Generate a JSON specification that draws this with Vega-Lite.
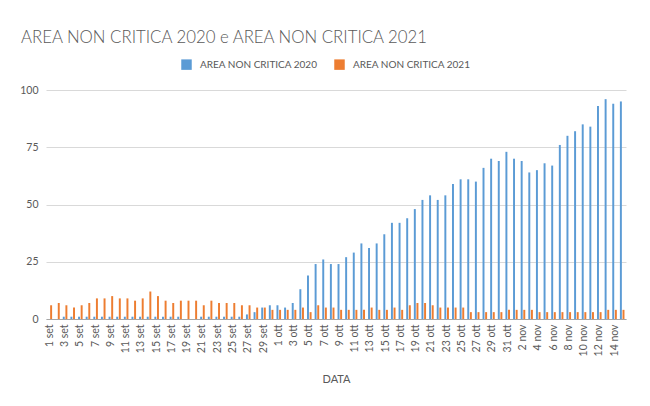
{
  "$schema": "https://vega.github.io/schema/vega-lite/v6.json",
  "width": 580,
  "height": 229,
  "autosize": {"type": "none"},
  "padding": {"left": 46, "top": 90, "right": 24, "bottom": 87},
  "background": "white",
  "title": {
    "text": "AREA NON CRITICA 2020 e AREA NON CRITICA 2021",
    "anchor": "start",
    "frame": "group",
    "dx": -25,
    "offset": 12,
    "font": "Lato",
    "fontSize": 16.8,
    "fontWeight": 300,
    "color": "#595959"
  },
  "data": {
    "values": [
      {"giorno": "1 set", "serie": "AREA NON CRITICA 2020", "valore": 0},
      {"giorno": "1 set", "serie": "AREA NON CRITICA 2021", "valore": 6},
      {"giorno": "2 set", "serie": "AREA NON CRITICA 2020", "valore": 0},
      {"giorno": "2 set", "serie": "AREA NON CRITICA 2021", "valore": 7},
      {"giorno": "3 set", "serie": "AREA NON CRITICA 2020", "valore": 1},
      {"giorno": "3 set", "serie": "AREA NON CRITICA 2021", "valore": 6},
      {"giorno": "4 set", "serie": "AREA NON CRITICA 2020", "valore": 1},
      {"giorno": "4 set", "serie": "AREA NON CRITICA 2021", "valore": 5},
      {"giorno": "5 set", "serie": "AREA NON CRITICA 2020", "valore": 1},
      {"giorno": "5 set", "serie": "AREA NON CRITICA 2021", "valore": 6},
      {"giorno": "6 set", "serie": "AREA NON CRITICA 2020", "valore": 1},
      {"giorno": "6 set", "serie": "AREA NON CRITICA 2021", "valore": 7},
      {"giorno": "7 set", "serie": "AREA NON CRITICA 2020", "valore": 1},
      {"giorno": "7 set", "serie": "AREA NON CRITICA 2021", "valore": 9},
      {"giorno": "8 set", "serie": "AREA NON CRITICA 2020", "valore": 1},
      {"giorno": "8 set", "serie": "AREA NON CRITICA 2021", "valore": 9},
      {"giorno": "9 set", "serie": "AREA NON CRITICA 2020", "valore": 1},
      {"giorno": "9 set", "serie": "AREA NON CRITICA 2021", "valore": 10},
      {"giorno": "10 set", "serie": "AREA NON CRITICA 2020", "valore": 1},
      {"giorno": "10 set", "serie": "AREA NON CRITICA 2021", "valore": 9},
      {"giorno": "11 set", "serie": "AREA NON CRITICA 2020", "valore": 1},
      {"giorno": "11 set", "serie": "AREA NON CRITICA 2021", "valore": 9},
      {"giorno": "12 set", "serie": "AREA NON CRITICA 2020", "valore": 1},
      {"giorno": "12 set", "serie": "AREA NON CRITICA 2021", "valore": 8},
      {"giorno": "13 set", "serie": "AREA NON CRITICA 2020", "valore": 1},
      {"giorno": "13 set", "serie": "AREA NON CRITICA 2021", "valore": 9},
      {"giorno": "14 set", "serie": "AREA NON CRITICA 2020", "valore": 1},
      {"giorno": "14 set", "serie": "AREA NON CRITICA 2021", "valore": 12},
      {"giorno": "15 set", "serie": "AREA NON CRITICA 2020", "valore": 1},
      {"giorno": "15 set", "serie": "AREA NON CRITICA 2021", "valore": 10},
      {"giorno": "16 set", "serie": "AREA NON CRITICA 2020", "valore": 1},
      {"giorno": "16 set", "serie": "AREA NON CRITICA 2021", "valore": 8},
      {"giorno": "17 set", "serie": "AREA NON CRITICA 2020", "valore": 1},
      {"giorno": "17 set", "serie": "AREA NON CRITICA 2021", "valore": 7},
      {"giorno": "18 set", "serie": "AREA NON CRITICA 2020", "valore": 1},
      {"giorno": "18 set", "serie": "AREA NON CRITICA 2021", "valore": 8},
      {"giorno": "19 set", "serie": "AREA NON CRITICA 2020", "valore": 0},
      {"giorno": "19 set", "serie": "AREA NON CRITICA 2021", "valore": 8},
      {"giorno": "20 set", "serie": "AREA NON CRITICA 2020", "valore": 0},
      {"giorno": "20 set", "serie": "AREA NON CRITICA 2021", "valore": 8},
      {"giorno": "21 set", "serie": "AREA NON CRITICA 2020", "valore": 1},
      {"giorno": "21 set", "serie": "AREA NON CRITICA 2021", "valore": 6},
      {"giorno": "22 set", "serie": "AREA NON CRITICA 2020", "valore": 1},
      {"giorno": "22 set", "serie": "AREA NON CRITICA 2021", "valore": 8},
      {"giorno": "23 set", "serie": "AREA NON CRITICA 2020", "valore": 1},
      {"giorno": "23 set", "serie": "AREA NON CRITICA 2021", "valore": 7},
      {"giorno": "24 set", "serie": "AREA NON CRITICA 2020", "valore": 1},
      {"giorno": "24 set", "serie": "AREA NON CRITICA 2021", "valore": 7},
      {"giorno": "25 set", "serie": "AREA NON CRITICA 2020", "valore": 1},
      {"giorno": "25 set", "serie": "AREA NON CRITICA 2021", "valore": 7},
      {"giorno": "26 set", "serie": "AREA NON CRITICA 2020", "valore": 1},
      {"giorno": "26 set", "serie": "AREA NON CRITICA 2021", "valore": 6},
      {"giorno": "27 set", "serie": "AREA NON CRITICA 2020", "valore": 2},
      {"giorno": "27 set", "serie": "AREA NON CRITICA 2021", "valore": 6},
      {"giorno": "28 set", "serie": "AREA NON CRITICA 2020", "valore": 3},
      {"giorno": "28 set", "serie": "AREA NON CRITICA 2021", "valore": 5},
      {"giorno": "29 set", "serie": "AREA NON CRITICA 2020", "valore": 5},
      {"giorno": "29 set", "serie": "AREA NON CRITICA 2021", "valore": 5},
      {"giorno": "30 set", "serie": "AREA NON CRITICA 2020", "valore": 6},
      {"giorno": "30 set", "serie": "AREA NON CRITICA 2021", "valore": 4},
      {"giorno": "1 ott", "serie": "AREA NON CRITICA 2020", "valore": 6},
      {"giorno": "1 ott", "serie": "AREA NON CRITICA 2021", "valore": 4},
      {"giorno": "2 ott", "serie": "AREA NON CRITICA 2020", "valore": 5},
      {"giorno": "2 ott", "serie": "AREA NON CRITICA 2021", "valore": 4},
      {"giorno": "3 ott", "serie": "AREA NON CRITICA 2020", "valore": 7},
      {"giorno": "3 ott", "serie": "AREA NON CRITICA 2021", "valore": 4},
      {"giorno": "4 ott", "serie": "AREA NON CRITICA 2020", "valore": 13},
      {"giorno": "4 ott", "serie": "AREA NON CRITICA 2021", "valore": 5},
      {"giorno": "5 ott", "serie": "AREA NON CRITICA 2020", "valore": 19},
      {"giorno": "5 ott", "serie": "AREA NON CRITICA 2021", "valore": 3},
      {"giorno": "6 ott", "serie": "AREA NON CRITICA 2020", "valore": 24},
      {"giorno": "6 ott", "serie": "AREA NON CRITICA 2021", "valore": 6},
      {"giorno": "7 ott", "serie": "AREA NON CRITICA 2020", "valore": 26},
      {"giorno": "7 ott", "serie": "AREA NON CRITICA 2021", "valore": 5},
      {"giorno": "8 ott", "serie": "AREA NON CRITICA 2020", "valore": 24},
      {"giorno": "8 ott", "serie": "AREA NON CRITICA 2021", "valore": 5},
      {"giorno": "9 ott", "serie": "AREA NON CRITICA 2020", "valore": 24},
      {"giorno": "9 ott", "serie": "AREA NON CRITICA 2021", "valore": 4},
      {"giorno": "10 ott", "serie": "AREA NON CRITICA 2020", "valore": 27},
      {"giorno": "10 ott", "serie": "AREA NON CRITICA 2021", "valore": 4},
      {"giorno": "11 ott", "serie": "AREA NON CRITICA 2020", "valore": 29},
      {"giorno": "11 ott", "serie": "AREA NON CRITICA 2021", "valore": 4},
      {"giorno": "12 ott", "serie": "AREA NON CRITICA 2020", "valore": 33},
      {"giorno": "12 ott", "serie": "AREA NON CRITICA 2021", "valore": 4},
      {"giorno": "13 ott", "serie": "AREA NON CRITICA 2020", "valore": 31},
      {"giorno": "13 ott", "serie": "AREA NON CRITICA 2021", "valore": 5},
      {"giorno": "14 ott", "serie": "AREA NON CRITICA 2020", "valore": 33},
      {"giorno": "14 ott", "serie": "AREA NON CRITICA 2021", "valore": 4},
      {"giorno": "15 ott", "serie": "AREA NON CRITICA 2020", "valore": 37},
      {"giorno": "15 ott", "serie": "AREA NON CRITICA 2021", "valore": 4},
      {"giorno": "16 ott", "serie": "AREA NON CRITICA 2020", "valore": 42},
      {"giorno": "16 ott", "serie": "AREA NON CRITICA 2021", "valore": 5},
      {"giorno": "17 ott", "serie": "AREA NON CRITICA 2020", "valore": 42},
      {"giorno": "17 ott", "serie": "AREA NON CRITICA 2021", "valore": 4},
      {"giorno": "18 ott", "serie": "AREA NON CRITICA 2020", "valore": 44},
      {"giorno": "18 ott", "serie": "AREA NON CRITICA 2021", "valore": 6},
      {"giorno": "19 ott", "serie": "AREA NON CRITICA 2020", "valore": 48},
      {"giorno": "19 ott", "serie": "AREA NON CRITICA 2021", "valore": 7},
      {"giorno": "20 ott", "serie": "AREA NON CRITICA 2020", "valore": 52},
      {"giorno": "20 ott", "serie": "AREA NON CRITICA 2021", "valore": 7},
      {"giorno": "21 ott", "serie": "AREA NON CRITICA 2020", "valore": 54},
      {"giorno": "21 ott", "serie": "AREA NON CRITICA 2021", "valore": 6},
      {"giorno": "22 ott", "serie": "AREA NON CRITICA 2020", "valore": 52},
      {"giorno": "22 ott", "serie": "AREA NON CRITICA 2021", "valore": 5},
      {"giorno": "23 ott", "serie": "AREA NON CRITICA 2020", "valore": 54},
      {"giorno": "23 ott", "serie": "AREA NON CRITICA 2021", "valore": 5},
      {"giorno": "24 ott", "serie": "AREA NON CRITICA 2020", "valore": 59},
      {"giorno": "24 ott", "serie": "AREA NON CRITICA 2021", "valore": 5},
      {"giorno": "25 ott", "serie": "AREA NON CRITICA 2020", "valore": 61},
      {"giorno": "25 ott", "serie": "AREA NON CRITICA 2021", "valore": 5},
      {"giorno": "26 ott", "serie": "AREA NON CRITICA 2020", "valore": 61},
      {"giorno": "26 ott", "serie": "AREA NON CRITICA 2021", "valore": 3},
      {"giorno": "27 ott", "serie": "AREA NON CRITICA 2020", "valore": 60},
      {"giorno": "27 ott", "serie": "AREA NON CRITICA 2021", "valore": 3},
      {"giorno": "28 ott", "serie": "AREA NON CRITICA 2020", "valore": 66},
      {"giorno": "28 ott", "serie": "AREA NON CRITICA 2021", "valore": 3},
      {"giorno": "29 ott", "serie": "AREA NON CRITICA 2020", "valore": 70},
      {"giorno": "29 ott", "serie": "AREA NON CRITICA 2021", "valore": 3},
      {"giorno": "30 ott", "serie": "AREA NON CRITICA 2020", "valore": 69},
      {"giorno": "30 ott", "serie": "AREA NON CRITICA 2021", "valore": 3},
      {"giorno": "31 ott", "serie": "AREA NON CRITICA 2020", "valore": 73},
      {"giorno": "31 ott", "serie": "AREA NON CRITICA 2021", "valore": 4},
      {"giorno": "1 nov", "serie": "AREA NON CRITICA 2020", "valore": 70},
      {"giorno": "1 nov", "serie": "AREA NON CRITICA 2021", "valore": 4},
      {"giorno": "2 nov", "serie": "AREA NON CRITICA 2020", "valore": 69},
      {"giorno": "2 nov", "serie": "AREA NON CRITICA 2021", "valore": 4},
      {"giorno": "3 nov", "serie": "AREA NON CRITICA 2020", "valore": 64},
      {"giorno": "3 nov", "serie": "AREA NON CRITICA 2021", "valore": 4},
      {"giorno": "4 nov", "serie": "AREA NON CRITICA 2020", "valore": 65},
      {"giorno": "4 nov", "serie": "AREA NON CRITICA 2021", "valore": 3},
      {"giorno": "5 nov", "serie": "AREA NON CRITICA 2020", "valore": 68},
      {"giorno": "5 nov", "serie": "AREA NON CRITICA 2021", "valore": 3},
      {"giorno": "6 nov", "serie": "AREA NON CRITICA 2020", "valore": 67},
      {"giorno": "6 nov", "serie": "AREA NON CRITICA 2021", "valore": 3},
      {"giorno": "7 nov", "serie": "AREA NON CRITICA 2020", "valore": 76},
      {"giorno": "7 nov", "serie": "AREA NON CRITICA 2021", "valore": 3},
      {"giorno": "8 nov", "serie": "AREA NON CRITICA 2020", "valore": 80},
      {"giorno": "8 nov", "serie": "AREA NON CRITICA 2021", "valore": 3},
      {"giorno": "9 nov", "serie": "AREA NON CRITICA 2020", "valore": 82},
      {"giorno": "9 nov", "serie": "AREA NON CRITICA 2021", "valore": 3},
      {"giorno": "10 nov", "serie": "AREA NON CRITICA 2020", "valore": 85},
      {"giorno": "10 nov", "serie": "AREA NON CRITICA 2021", "valore": 3},
      {"giorno": "11 nov", "serie": "AREA NON CRITICA 2020", "valore": 84},
      {"giorno": "11 nov", "serie": "AREA NON CRITICA 2021", "valore": 3},
      {"giorno": "12 nov", "serie": "AREA NON CRITICA 2020", "valore": 93},
      {"giorno": "12 nov", "serie": "AREA NON CRITICA 2021", "valore": 3},
      {"giorno": "13 nov", "serie": "AREA NON CRITICA 2020", "valore": 96},
      {"giorno": "13 nov", "serie": "AREA NON CRITICA 2021", "valore": 4},
      {"giorno": "14 nov", "serie": "AREA NON CRITICA 2020", "valore": 94},
      {"giorno": "14 nov", "serie": "AREA NON CRITICA 2021", "valore": 4},
      {"giorno": "15 nov", "serie": "AREA NON CRITICA 2020", "valore": 95},
      {"giorno": "15 nov", "serie": "AREA NON CRITICA 2021", "valore": 4}
    ]
  },
  "mark": {"type": "bar"},
  "encoding": {
    "x": {
      "field": "giorno",
      "type": "nominal",
      "sort": null,
      "scale": {"paddingInner": 0.4, "paddingOuter": 0.2},
      "axis": {
        "title": "DATA",
        "titleFont": "Lato",
        "titleFontSize": 11,
        "titleFontWeight": "normal",
        "titleColor": "#595959",
        "titlePadding": 18,
        "labelFont": "Lato",
        "labelFontSize": 10.5,
        "labelColor": "#595959",
        "labelAngle": 270,
        "labelPadding": 5,
        "ticks": false,
        "domainColor": "#a6a6a6",
        "grid": false,
        "values": ["1 set", "3 set", "5 set", "7 set", "9 set", "11 set", "13 set", "15 set", "17 set", "19 set", "21 set", "23 set", "25 set", "27 set", "29 set", "1 ott", "3 ott", "5 ott", "7 ott", "9 ott", "11 ott", "13 ott", "15 ott", "17 ott", "19 ott", "21 ott", "23 ott", "25 ott", "27 ott", "29 ott", "31 ott", "2 nov", "4 nov", "6 nov", "8 nov", "10 nov", "12 nov", "14 nov"]
      }
    },
    "xOffset": {
      "field": "serie",
      "type": "nominal",
      "scale": {"paddingInner": 0.25}
    },
    "y": {
      "field": "valore",
      "type": "quantitative",
      "scale": {"domain": [0, 100], "nice": false},
      "axis": {
        "title": null,
        "values": [0, 25, 50, 75, 100],
        "labelFont": "Lato",
        "labelFontSize": 10.5,
        "labelColor": "#595959",
        "labelPadding": 8,
        "ticks": false,
        "domain": false,
        "gridColor": "#d9d9d9",
        "gridWidth": 1
      }
    },
    "color": {
      "field": "serie",
      "type": "nominal",
      "scale": {
        "domain": ["AREA NON CRITICA 2020", "AREA NON CRITICA 2021"],
        "range": ["#5B9BD5", "#ED7D31"]
      },
      "legend": {
        "title": null,
        "orient": "none",
        "direction": "horizontal",
        "legendX": 135,
        "legendY": -31,
        "symbolType": "square",
        "symbolSize": 110,
        "symbolStrokeWidth": 0,
        "symbolOpacity": 1,
        "labelFont": "Lato",
        "labelFontSize": 10,
        "labelColor": "#595959",
        "labelOffset": 8,
        "columnPadding": 16
      }
    }
  },
  "config": {"view": {"stroke": null}}
}
